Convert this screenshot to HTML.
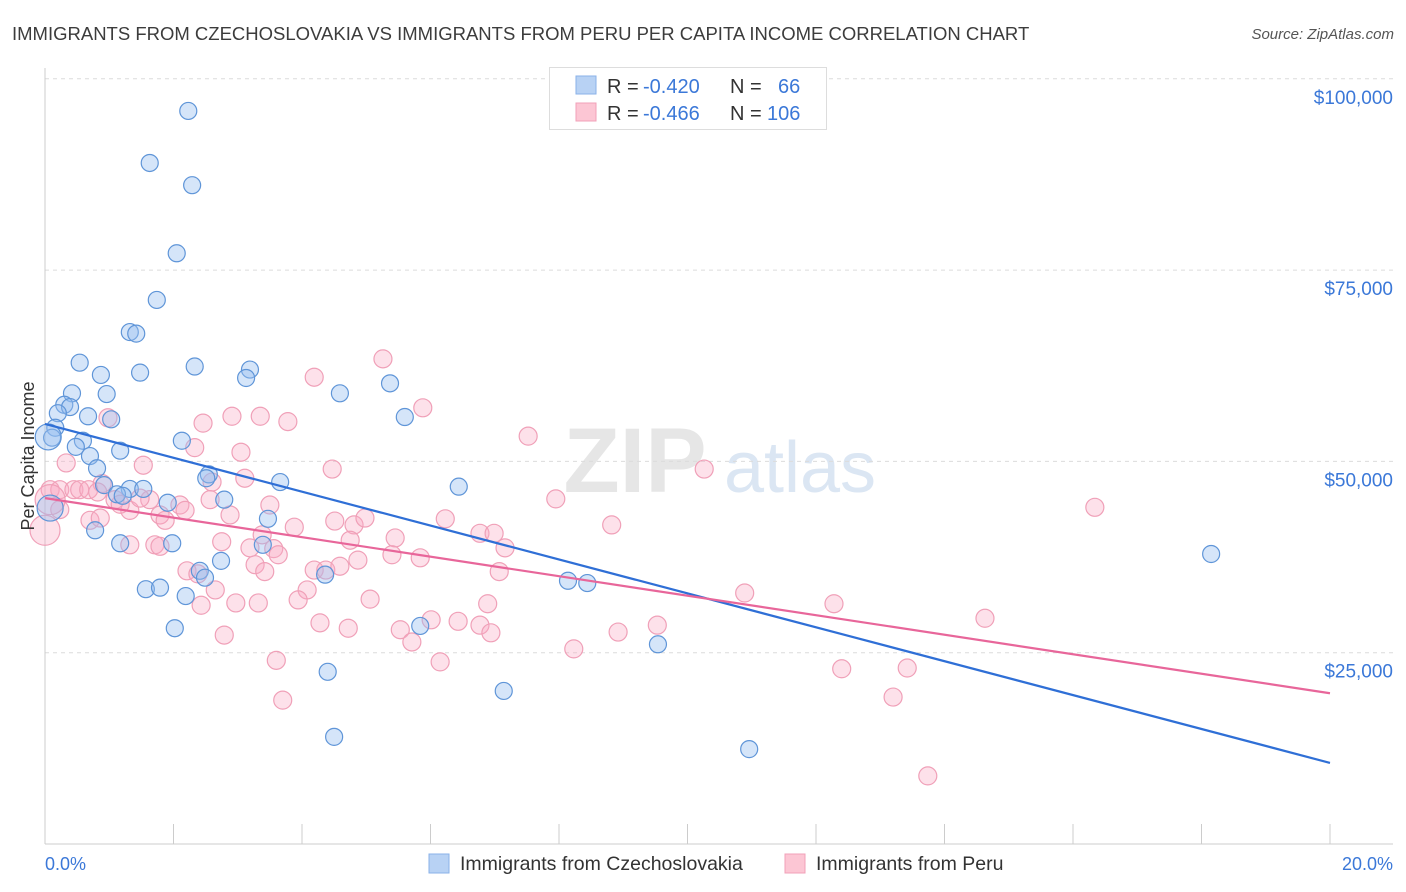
<!DOCTYPE html>
<html><head><meta charset="utf-8"><style>
body{margin:0;background:#fff;font-family:"Liberation Sans",sans-serif;}
#wrap{position:relative;width:1406px;height:892px;overflow:hidden;}
</style></head><body>
<div id="wrap">
<svg id="chart" width="1406" height="892" xmlns="http://www.w3.org/2000/svg">
<text x="12" y="40" font-size="18.5" fill="#3c3c3c">IMMIGRANTS FROM CZECHOSLOVAKIA VS IMMIGRANTS FROM PERU PER CAPITA INCOME CORRELATION CHART</text>
<text x="1394" y="39" font-size="15" fill="#555" font-style="italic" text-anchor="end">Source: ZipAtlas.com</text>
<text x="635" y="492" font-size="92" fill="#e6e6e6" font-weight="bold" text-anchor="middle">ZIP</text>
<text x="800" y="492" font-size="72" fill="#dbe6f3" text-anchor="middle">atlas</text>
<g id="grid"></g>
<g id="axes"></g>
<g id="pts"></g>
<g id="lines"></g>
<text transform="translate(34,456) rotate(-90)" font-size="18" fill="#333" text-anchor="middle">Per Capita Income</text>
<g>
<rect x="549.5" y="67.5" width="277" height="62" fill="#fff" stroke="#ddd"/>
<rect x="576" y="76" width="20" height="18" fill="#b8d2f4" stroke="#8ab2e8"/>
<rect x="576" y="103" width="20" height="18" fill="#fcc6d4" stroke="#f2a0b8"/>
<text x="607" y="93" font-size="20" fill="#333">R = <tspan fill="#3b78d8" x="643">-0.420</tspan></text>
<text x="730" y="93" font-size="20" fill="#333">N = <tspan fill="#3b78d8" x="778">66</tspan></text>
<text x="607" y="120" font-size="20" fill="#333">R = <tspan fill="#3b78d8" x="643">-0.466</tspan></text>
<text x="730" y="120" font-size="20" fill="#333">N = <tspan fill="#3b78d8" x="767">106</tspan></text>
</g>
<g>
<rect x="429" y="854" width="20" height="19" fill="#b8d2f4" stroke="#8ab2e8"/>
<text x="460" y="870" font-size="19.5" fill="#333">Immigrants from Czechoslovakia</text>
<rect x="785" y="854" width="20" height="19" fill="#fcc6d4" stroke="#f2a0b8"/>
<text x="816" y="870" font-size="19.5" fill="#333">Immigrants from Peru</text>
</g>
</svg>
</div>
<script>
const blueX=[2.23,1.63,2.29,2.05,1.74,1.32,1.42,0.54,2.33,3.19,0.87,1.48,3.13,5.37,0.42,0.96,4.59,0.30,0.39,0.20,0.67,1.03,5.60,0.16,0.11,0.59,0.48,2.13,1.17,0.70,0.81,2.55,2.51,3.66,6.44,0.92,1.32,1.53,1.12,1.21,2.79,1.91,3.47,0.78,1.17,1.98,3.39,2.74,2.41,2.49,4.36,1.57,1.79,2.19,8.14,8.44,2.02,5.84,9.54,4.40,7.14,4.50,10.96,18.15,0.05,0.08];
const blueY=[95800,89000,86100,77200,71100,66900,66700,62900,62400,62000,61300,61600,60900,60200,58900,58800,58900,57400,57100,56300,55900,55500,55800,54400,53100,52700,51900,52700,51400,50700,49100,48300,47800,47300,46700,46900,46400,46400,45700,45500,45000,44600,42500,41000,39300,39300,39100,37000,35700,34800,35200,33300,33500,32400,34400,34100,28200,28500,26100,22500,20000,14000,12400,37900,53200,43900];
const pinkX=[5.26,4.19,5.88,0.98,2.46,2.91,3.35,3.78,7.52,2.33,3.05,0.33,1.53,4.47,10.26,3.11,2.60,0.89,7.95,16.34,0.08,0.23,0.45,0.54,0.68,1.09,1.32,1.63,1.79,1.87,2.10,2.18,2.57,2.88,3.50,6.23,8.82,0.70,0.86,3.88,4.81,4.98,4.51,5.45,3.38,2.75,6.77,6.99,4.75,1.32,1.71,1.79,3.19,3.56,5.84,5.40,7.16,3.63,3.27,3.42,4.19,4.37,4.59,4.87,2.21,2.38,7.07,2.65,4.08,3.32,5.06,2.43,2.97,3.94,6.89,12.28,10.89,14.63,6.01,6.43,4.28,4.72,5.53,6.77,9.53,8.92,6.94,2.79,5.71,6.15,8.23,3.60,12.40,13.42,13.20,3.70,13.74,0.82,1.17,1.48,0.23,0.00,0.08];
const pinkY=[63400,61000,57000,55700,55000,55900,55900,55200,53300,51800,51200,49800,49500,49000,49000,47800,47300,47100,45100,44000,46300,46300,46300,46300,46300,45000,43600,45000,43000,42300,44300,43600,45000,43000,44300,42500,41700,42300,42600,41400,41700,42600,42200,40000,40400,39500,40600,40600,39700,39100,39100,38900,38700,38600,37400,37800,38700,37800,36500,35600,35800,35800,36300,37100,35700,35300,35600,33200,33200,31500,32000,31200,31500,31900,31400,31400,32800,29500,29300,29100,28900,28200,28000,28600,28600,27700,27600,27300,26400,23800,25500,24000,22900,23000,19200,18800,8900,46000,44400,45200,43700,41000,45000];
const blueBig=[64,65];
const pinkBig=[101,102];
const blueTrend=[54900,10600];
const pinkTrend=[45200,19700];
const yTicks=[25000,50000,75000,100000];
const yTickLabels=["$25,000","$50,000","$75,000","$100,000"];
const xTicks=[0,2,4,6,8,10,12,14,16,18,20];

const X0=45,X1=1330,Y0=844,PX=191.3/25000;
const sx=v=>X0+(X1-X0)*v/20;
const sy=v=>Y0-v*PX;
const NS="http://www.w3.org/2000/svg";
function mk(parent,tag,attrs){const e=document.createElementNS(NS,tag);for(const k in attrs)e.setAttribute(k,attrs[k]);document.getElementById(parent).appendChild(e);return e;}

yTicks.forEach((t,i)=>{
  const l=mk('grid','line',{x1:X0,x2:1393,y1:sy(t),y2:sy(t),stroke:'#dcdcdc','stroke-dasharray':'4,4'});
  
  
  const tx=mk('grid','text',{x:1393,y:sy(t)+25,'font-size':19,fill:'#3b78d8','text-anchor':'end'});
  tx.textContent=yTickLabels[i];
  
  
});
const ya=mk('axes','line',{x1:X0,x2:X0,y1:68,y2:Y0,stroke:'#ccc'});


const xa=mk('axes','line',{x1:X0,x2:1393,y1:Y0,y2:Y0,stroke:'#ccc'});


xTicks.forEach(t=>{
  const l=mk('axes','line',{x1:sx(t),x2:sx(t),y1:824,y2:Y0,stroke:'#ccc'});
  
  
});
const xl0=mk('axes','text',{x:45,y:870,'font-size':18,fill:'#3b78d8'});xl0.textContent='0.0%';


const xl1=mk('axes','text',{x:1393,y:870,'font-size':18,fill:'#3b78d8','text-anchor':'end'});xl1.textContent='20.0%';



pinkX.forEach((x,i)=>{
  const c=mk('pts','circle',{cx:sx(x),cy:sy(pinkY[i]),r:pinkBig.includes(i)?15:9,fill:'rgba(248,170,195,0.35)',stroke:'#f0a0b8','stroke-width':1.2});
  
  
});
blueX.forEach((x,i)=>{
  const c=mk('pts','circle',{cx:sx(x),cy:sy(blueY[i]),r:blueBig.includes(i)?13:8.5,fill:'rgba(150,190,240,0.4)',stroke:'#5f95d8','stroke-width':1.2});
  
  
});
const bl=mk('lines','line',{x1:sx(0),y1:sy(blueTrend[0]),x2:sx(20),y2:sy(blueTrend[1]),stroke:'#2f6fd6','stroke-width':2.2});


const pl=mk('lines','line',{x1:sx(0),y1:sy(pinkTrend[0]),x2:sx(20),y2:sy(pinkTrend[1]),stroke:'#e8669a','stroke-width':2.2});


</script>
</body></html>
